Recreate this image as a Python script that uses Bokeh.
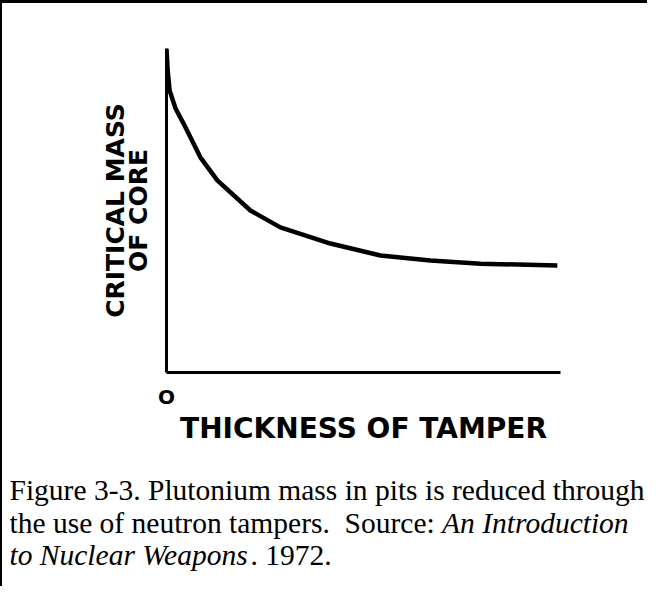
from bokeh.plotting import figure
from bokeh.layouts import column
from bokeh.models import Range1d, LinearAxis, FixedTicker, InlineStyleSheet
from bokeh.core.properties import value
from bokeh.embed import file_html
from bokeh.resources import INLINE

# ---- data ----
thickness = [0, 0.03, 0.08, 0.23, 0.43, 0.86, 1.29, 2.13, 2.89, 4.16, 5.43, 6.70, 7.97, 9.92]
critical_mass = [10, 9.32, 8.70, 8.15, 7.69, 6.64, 5.93, 5.0, 4.48, 3.98, 3.61, 3.46, 3.36, 3.30]
x_tick_values = [0]
x_tick_labels = {0: "O"}
x_title = "THICKNESS OF TAMPER"
y_title_outer = "CRITICAL MASS"
y_title_inner = "OF CORE"
caption_line1 = [("Figure 3-3. Plutonium mass in pits is reduced through", "normal")]
caption_line2 = [("the use of neutron tampers.", "normal"), ("  ", "normal"), ("Source: ", "normal"),
                 ("An Introduction", "italic")]
caption_line3 = [("to Nuclear Weapons", "italic"), (". 1972.", "normal")]

# Times / Liberation Serif advance widths (per 1000 em) for measuring runs
REG = {' ': 250, 'a': 444, 'c': 444, 'd': 500, 'e': 444, 'f': 333, 'h': 500, 'm': 778, 'n': 500,
       'o': 500, 'p': 500, 'r': 333, 's': 389, 't': 278, 'u': 500, 'S': 556, '.': 250, ':': 278,
       '1': 500, '9': 500, '7': 500, '2': 500}
ITA = {' ': 250, 'A': 611, 'I': 333, 'N': 667, 'W': 833, 'a': 500, 'c': 444, 'd': 500, 'e': 444,
       'l': 278, 'n': 500, 'o': 500, 'p': 500, 'r': 389, 's': 389, 't': 278, 'u': 500}


def run_width(text, style, size):
    table = ITA if style == "italic" else REG
    return sum(table.get(ch, 500) for ch in text) * size / 1000.0


# ---- chart geometry (pixels) ----
FRAME_LEFT, FRAME_RIGHT, FRAME_TOP, FRAME_BOTTOM = 166, 560, 48, 372
BL, BT = 2, 3  # css border widths
W = 647
H1 = 454
H2 = 589 - BT - H1

p = figure(width=W, height=H1, x_range=Range1d(0, 10), y_range=Range1d(0, 10),
           output_backend="svg", toolbar_location=None, frame_align=False,
           min_border_left=FRAME_LEFT - BL, min_border_right=W - (FRAME_RIGHT - BL),
           min_border_top=FRAME_TOP - BT, min_border_bottom=H1 - (FRAME_BOTTOM - BT))
p.stylesheets = [InlineStyleSheet(css=":host { border-top: 3px solid #000; border-left: 2px solid #000; }")]
p.grid.visible = False
p.outline_line_color = None
p.background_fill_color = "white"
p.border_fill_color = "white"

p.line(thickness, critical_mass, line_color="black", line_width=4.5)

# x axis
xa = p.xaxis[0]
xa.ticker = FixedTicker(ticks=x_tick_values)
xa.major_label_overrides = x_tick_labels
xa.major_tick_line_color = None
xa.minor_tick_line_color = None
xa.axis_line_width = 3
xa.axis_line_color = "black"
xa.major_label_text_font = "DejaVu Sans"
xa.major_label_text_font_style = "bold"
xa.major_label_text_font_size = "20px"
xa.major_label_text_color = "black"
xa.major_label_standoff = 6
xa.axis_label = x_title
xa.axis_label_text_font = "DejaVu Sans"
xa.axis_label_text_font_style = "bold"
xa.axis_label_text_font_size = "28px"
xa.axis_label_text_color = "black"
xa.axis_label_standoff = 0

# y axis (inner line holds "OF CORE")
ya = p.yaxis[0]
ya.ticker = FixedTicker(ticks=[])
ya.major_tick_line_color = None
ya.minor_tick_line_color = None
ya.axis_line_width = 3
ya.axis_line_color = "black"
ya.axis_label = y_title_inner
ya.axis_label_text_font = "DejaVu Sans"
ya.axis_label_text_font_style = "bold"
ya.axis_label_text_font_size = "25px"
ya.axis_label_text_color = "black"
ya.axis_label_standoff = 14

ya2 = LinearAxis(ticker=FixedTicker(ticks=[]), axis_line_color=None,
                 major_tick_line_color=None, minor_tick_line_color=None,
                 axis_label=y_title_outer, axis_label_text_font="DejaVu Sans",
                 axis_label_text_font_style="bold", axis_label_text_font_size="25px",
                 axis_label_text_color="black", axis_label_standoff=-9)
p.add_layout(ya2, "left")

# ---- caption panel ----
FS = 29.5
SERIF = "'Liberation Serif', 'Times New Roman', Times, serif"
cap = figure(width=W, height=H2, x_range=Range1d(0, W), y_range=Range1d(H2, 0),
             output_backend="svg", toolbar_location=None, frame_align=False,
             x_axis_location=None, y_axis_location=None,
             min_border=0, min_border_left=0, min_border_right=0,
             min_border_top=0, min_border_bottom=0)
cap.stylesheets = [InlineStyleSheet(css=":host { border-left: 2px solid #000; }")]
cap.grid.visible = False
cap.outline_line_color = None
cap.background_fill_color = "white"
cap.border_fill_color = "white"

cap_top = BT + H1          # picture y where the caption panel starts
cap_left = 9
baselines = [492, 525, 557]
for runs, base in zip([caption_line1, caption_line2, caption_line3], baselines):
    xpx = cap_left
    for text, style in runs:
        if text.strip():
            cap.text(x=[xpx - BL], y=[base - cap_top], text=[text],
                     text_font=value(SERIF), text_font_size=f"{FS}px",
                     text_font_style=style, text_color="black",
                     text_baseline="alphabetic", text_align="left")
        xpx += run_width(text, style, FS)

layout = column(p, cap, spacing=0)
open("out.html", "w").write(file_html(layout, INLINE))
